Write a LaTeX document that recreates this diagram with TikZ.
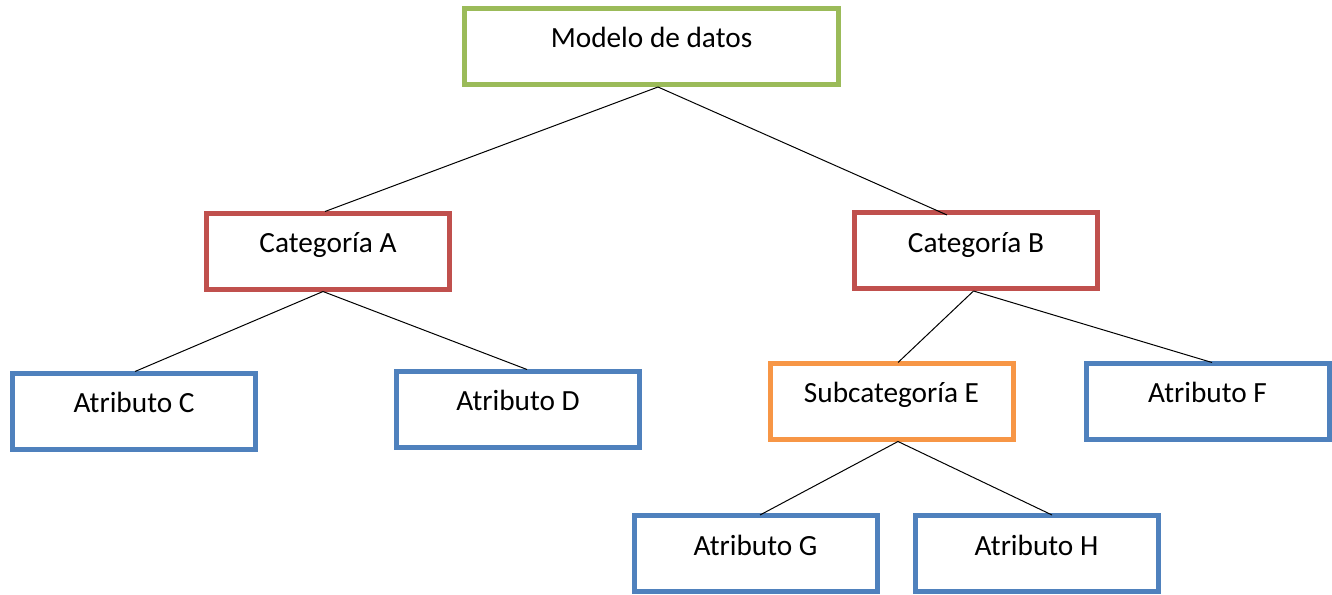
\documentclass[tikz,border=0pt]{standalone}
\usepackage{fontspec}
\setmainfont{Carlito}
\usetikzlibrary{calc}
\definecolor{cgreen}{HTML}{9BBB59}
\definecolor{cred}{HTML}{C0504D}
\definecolor{cblue}{HTML}{4F81BD}
\definecolor{corange}{HTML}{F79646}
\begin{document}
\begin{tikzpicture}[x=1pt,y=-1pt,
  box/.style={draw, line width=5pt, rectangle, minimum width=243pt, minimum height=76pt, inner sep=0pt, fill=white},
  txt/.style={font=\fontsize{29.3}{34}\selectfont, anchor=base, inner sep=0pt},
  conn/.style={line width=1pt, black}]
\useasboundingbox (0,0) rectangle (1332,594);
\fill[white] (0,0) rectangle (1332,594);
% boxes
\node[box, draw=cgreen, minimum width=374pt] (m) at (651.5,46.5) {};
\node[box, draw=cred] (a) at (328,251) {};
\node[box, draw=cred] (b) at (976,250.5) {};
\node[box, draw=cblue] (c) at (134,411) {};
\node[box, draw=cblue] (d) at (518,409) {};
\node[box, draw=corange] (e) at (891.5,401) {};
\node[box, draw=cblue] (f) at (1207.5,401) {};
\node[box, draw=cblue] (g) at (755.5,553.5) {};
\node[box, draw=cblue] (h) at (1036.5,553.5) {};
% texts
\node[txt] (mt) at ($(m.center)+(0,1.5)$) {Modelo de datos};
\node[txt] (at) at ($(a.center)+(0,1.5)$) {Categoría A};
\node[txt] (bt) at ($(b.center)+(0,1.5)$) {Categoría B};
\node[txt] (ct) at ($(c.center)+(0,1.5)$) {Atributo C};
\node[txt] (dt) at ($(d.center)+(0,1.5)$) {Atributo D};
\node[txt] (et) at ($(e.center)+(0,1.5)$) {Subcategoría E};
\node[txt] (ft) at ($(f.center)+(0,1.5)$) {Atributo F};
\node[txt] (gt) at ($(g.center)+(0,1.5)$) {Atributo G};
\node[txt] (ht) at ($(h.center)+(0,1.5)$) {Atributo H};
% connectors
\draw[conn] ($(m.south)+(6.5,0)$) -- ($(a.north)+(-3,1)$);
\draw[conn] ($(m.south)+(6.5,0)$) -- ($(b.north)+(-29,5)$);
\draw[conn] ($(a.south)+(-5,0)$) -- ($(c.north)+(1,1)$);
\draw[conn] ($(a.south)+(-5,0)$) -- ($(d.north)+(9,1)$);
\draw[conn] ($(b.south)+(-2.5,0)$) -- ($(e.north)+(6.5,2)$);
\draw[conn] ($(b.south)+(-2.5,0)$) -- ($(f.north)+(4.5,2)$);
\draw[conn] ($(e.south)+(6.5,0)$) -- ($(g.north)+(4.5,2)$);
\draw[conn] ($(e.south)+(6.5,0)$) -- ($(h.north)+(15.5,2)$);
\end{tikzpicture}
\end{document}
